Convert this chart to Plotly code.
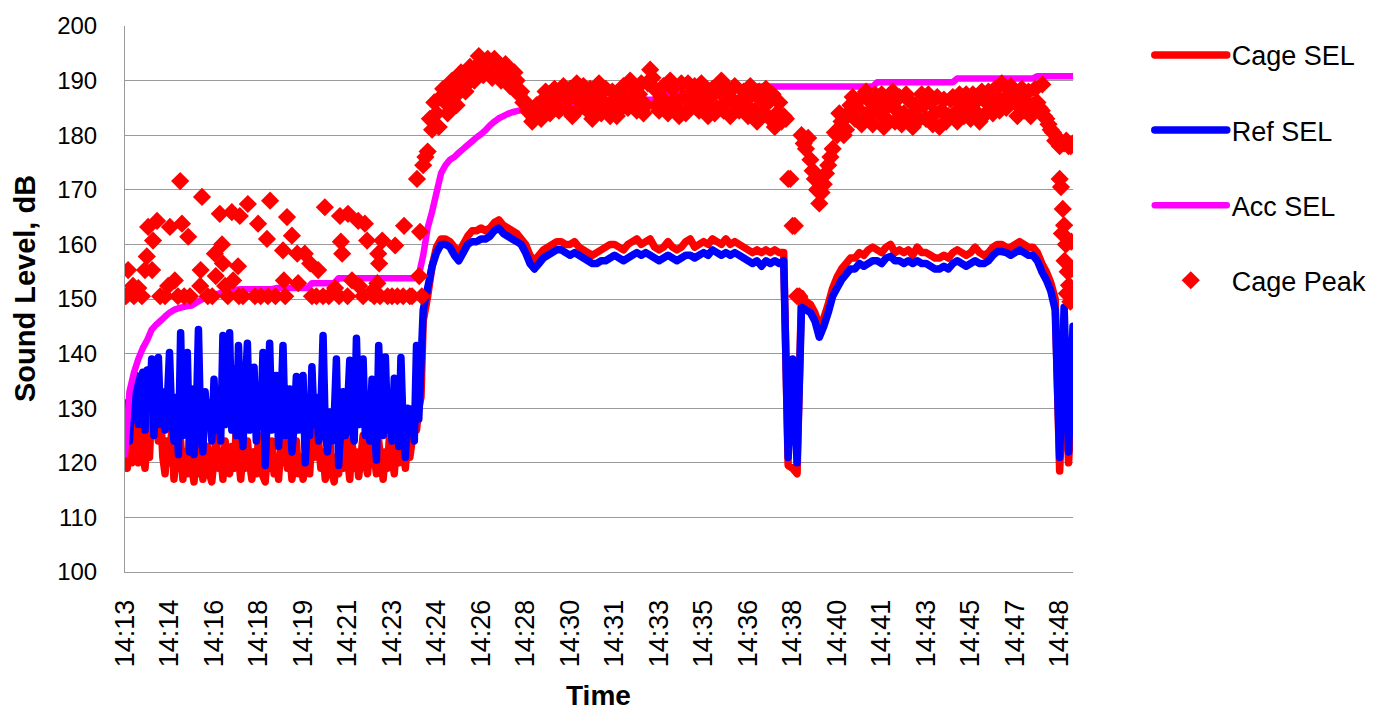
import plotly.graph_objects as go

# ---------------- data ----------------
tick_labels = ["14:13", "14:14", "14:16", "14:18", "14:19", "14:21", "14:23", "14:24",
               "14:26", "14:28", "14:30", "14:31", "14:33", "14:35", "14:36", "14:38",
               "14:40", "14:41", "14:43", "14:45", "14:47", "14:48"]
tick_seconds = [0, 100, 200, 300, 400, 500, 600, 700, 800, 900, 1000, 1100, 1200,
                1300, 1400, 1500, 1600, 1700, 1800, 1900, 2000, 2100]

# Before piling (14:13:00 - 14:24:05) SEL is logged every 5 s, afterwards every 10 s
early_step = 5
late_start = 670
late_step = 10

cage_sel_early = [
    121, 119, 123, 120, 129, 124, 120, 128, 122, 119,
    125, 121, 131, 133, 127, 124, 129, 121, 118, 124,
    120, 126, 117, 121, 119, 124, 117, 122, 118, 125,
    119, 116.5, 121, 118, 124, 117, 120, 123, 118, 116.5,
    121, 125, 119, 122, 117, 124, 120, 118, 123, 119,
    126, 121, 117, 122, 119, 124, 120, 117, 122, 118,
    125, 121, 117.5, 116.5, 122, 119, 124, 118, 121, 117,
    123, 120, 126, 119, 122, 117, 120, 124, 118, 121,
    117, 119, 123, 118, 126, 121, 128, 124, 119, 122,
    117, 120, 125, 118, 116.5, 121, 118, 123, 119, 126,
    121, 117, 124, 119, 122, 117.5, 121, 125, 120, 118,
    123, 127, 121, 118, 124, 120, 117, 122, 119, 126,
    121, 118, 124, 120, 126, 122, 119, 125, 121, 124,
    128, 126, 130, 132,
]
ref_sel_early = [
    126, 131, 124, 133, 128, 136, 127, 134, 136.6, 126,
    137, 130, 139, 125, 135, 139.3, 127, 133, 126, 131,
    140.2, 128, 124, 132, 121.5, 143.8, 125, 131, 140.2, 122,
    133.5, 121.5, 128, 144.4, 126, 122, 133, 127, 131, 124,
    135.3, 126, 130, 124, 143.3, 127, 131, 143.8, 126, 137.1,
    125, 141.5, 128, 123, 133, 141.9, 126, 130, 137.5, 124,
    131, 127, 140.2, 119.5, 129, 141.9, 126, 131, 136, 123,
    129, 141.5, 125, 128, 133.5, 122, 127, 135.8, 126, 130,
    136, 120, 128, 125, 137.6, 127, 132, 124, 129, 143.3,
    126, 122, 129.3, 124, 128, 139, 119.5, 127, 133, 125,
    130, 138.8, 126, 124, 142.8, 127, 131, 139, 125, 129,
    124, 135.3, 127, 120.5, 141.5, 128, 125, 139.4, 126, 130,
    124, 135.5, 127, 123, 139.3, 126, 121, 130, 127, 129.9,
    124, 141.5, 128, 138,
]

cage_sel = [
    146, 150.5, 156,
    159.5, 161, 161, 160.5, 159.5, 158.5, 160, 161.5, 162.5, 162.5,
    163, 162.5, 163, 164, 164.5, 163.5, 163, 162.5, 162, 161,
    160, 158, 157, 158, 159, 159.5, 160, 160.5, 160.5, 160,
    160, 160.5, 159.5, 159, 158.5, 158, 158.5, 159, 159.5, 160,
    160, 159.5, 159, 160, 160.5, 161, 160, 160.5, 161, 159.5,
    159, 159.5, 160.5, 159.5, 159, 159.5, 160.5, 161, 159.5, 160,
    160.5, 160, 161, 160.5, 160, 161, 160, 160.5, 160, 159.5,
    159, 158.5, 159, 158.5, 159, 158.5, 159, 158.5, 158.5, 119.5,
    119, 118, 151, 149.5, 149, 147.5, 145, 146.5, 149, 152,
    154, 155.5, 156.5, 157.5, 157.5, 158.5, 158, 159, 159.5, 159,
    158.5, 159.5, 160, 158.5, 159, 158.5, 159, 158, 159.5, 158.5,
    158.5, 158, 157.5, 157.5, 158, 157.5, 158.5, 159, 158.5, 158,
    158.5, 159.5, 158.5, 158, 158.5, 159.5, 160, 160, 159.5, 159.5,
    160, 160.5, 160, 159.5, 159.5, 158.5, 156.5, 155, 153, 150,
    118.5, 140, 120, 135,
]

ref_sel = [
    148, 152, 156,
    158.5, 160, 160, 159.5, 158, 157, 158.5, 160, 160.5, 160.5,
    161, 161, 161.5, 162.5, 163, 162, 161.5, 161, 160.5, 160,
    158.5, 156.5, 155.5, 156.5, 157.5, 158, 158.5, 159, 159, 158.5,
    158, 158.5, 158, 157.5, 157, 156.5, 156.5, 157, 157, 157.5,
    158, 157.5, 157, 157.5, 158, 158.5, 158, 158.5, 158, 157.5,
    157, 157.5, 158, 157.5, 157, 157.5, 158, 158, 157.5, 158,
    158.5, 158, 159, 158.5, 158, 158.5, 158, 158.5, 158, 157.5,
    157, 156.5, 157, 156, 157, 156.5, 157, 156.5, 157, 121,
    139, 120, 148.5, 148, 147.5, 146, 143, 145, 147.5, 150.5,
    152, 153.5, 154.5, 155.5, 155.5, 156.5, 156, 156.5, 157, 157,
    156.5, 157.5, 157.8, 157, 157, 156.5, 157, 156.5, 157, 156.5,
    156.5, 156, 155.5, 155.5, 156, 155.5, 156.5, 157, 156.5, 156,
    156.5, 157, 156.5, 156.5, 157, 158, 158.7, 158.7, 158.5, 158,
    158.5, 159, 158.5, 158, 158, 157, 155, 153.5, 151.5, 148,
    121, 148.5, 122, 145,
]

# Accumulated SEL, every 10 s from 14:13:00
acc_step = 10
acc_sel = [
    121.5, 133, 136.5, 139, 141, 142.5, 144.4, 145.3, 146, 146.8,
    147.5, 148, 148.3, 148.5, 148.7, 148.8, 149.3, 149.8, 150.2, 150.6,
    150.8, 151, 151.2, 151.4, 151.6, 151.7, 151.8, 151.8, 151.8, 151.8,
    151.8, 151.8, 151.8, 151.8, 152, 152, 152, 152, 152, 152,
    152, 152, 152.9, 152.9, 152.9, 152.9, 152.9, 152.9, 153.8, 153.8,
    153.8, 153.8, 153.8, 153.8, 153.8, 153.8, 153.8, 153.8, 153.8, 153.8,
    153.8, 153.8, 153.8, 153.8, 153.8, 153.8, 154.3, 158, 163, 166,
    169.5, 173, 174.5, 175.5, 176, 176.8, 177.5, 178.2, 178.9, 179.6,
    180.2, 180.9, 181.8, 182.5, 183.1, 183.5, 183.9, 184.2, 184.4, 184.6,
    184.7, 184.8, 184.8, 184.9, 184.9, 185, 185, 185, 185.1, 185.1,
    185.1, 185.8, 185.8, 185.8, 185.8, 185.8, 185.8, 185.8, 185.8, 185.8,
    185.8, 186.5, 186.5, 186.5, 186.5, 186.5, 186.5, 186.5, 186.5, 186.5,
    186.5, 187.5, 187.5, 187.5, 187.5, 187.5, 187.5, 187.5, 187.5, 187.5,
    187.5, 188.3, 188.3, 188.3, 188.3, 188.3, 188.3, 188.3, 188.3, 188.3,
    188.5, 188.9, 188.9, 188.9, 188.9, 188.9, 188.9, 188.9, 188.9, 188.9,
    188.9, 188.9, 188.9, 188.9, 188.9, 188.9, 188.9, 188.9, 188.9, 188.9,
    188.9, 188.9, 188.9, 188.9, 188.9, 188.9, 188.9, 188.9, 188.9, 189.7,
    189.7, 189.7, 189.7, 189.7, 189.7, 189.7, 189.7, 189.7, 189.7, 189.7,
    189.7, 189.7, 189.7, 189.7, 189.7, 189.7, 189.7, 190.4, 190.4, 190.4,
    190.4, 190.4, 190.4, 190.4, 190.4, 190.4, 190.4, 190.4, 190.4, 190.4,
    190.4, 190.4, 190.4, 190.4, 190.4, 190.8, 190.8, 190.8, 190.8, 190.8,
    190.8, 190.8, 190.8, 190.8,
]

# Cage Peak: scattered readings before the pile driving began (time in s after 14:13:00)
peak_early_t = [7, 18, 20, 38, 49, 45, 61, 52, 72, 63, 79, 101, 124, 128, 142, 112, 97, 119,
                146, 169, 170, 173, 196, 202, 213, 218, 240, 258, 276, 204, 220, 225, 231,
                254, 243, 256, 292, 299, 319, 326, 321, 364, 375, 355, 387, 357, 360, 389,
                404, 416, 434, 420, 445, 449, 483, 501, 485, 488, 472, 481, 524, 539, 544,
                578, 569, 607, 571, 510, 526, 551, 567, 573, 600, 625, 627, 663, 661, 667,
                656, 2, 30, 90, 133, 186, 265, 305, 338, 430, 458, 500, 535, 560, 590, 612,
                640, 645]
peak_early_db = [155.3, 152.4, 150.5, 150.5, 157.8, 155.3, 155.3, 163.2, 164.3, 160.7, 150.5,
                 163.2, 171.6, 163.8, 161.4, 153.4, 152.4, 150.5, 150.5, 152.4, 155.3, 168.7,
                 150.5, 158.3, 165.6, 160, 165.9, 165.2, 167.4, 154.2, 156.5, 152.4, 150.5,
                 156, 153.4, 150.5, 150.5, 163.8, 161, 168, 150.5, 165, 161.6, 158.9, 158.3,
                 153.4, 150.5, 152.9, 158.3, 156.5, 155.3, 150.5, 150.5, 166.8, 165.2, 165.6,
                 160.5, 158.3, 152, 150.5, 164.3, 163.8, 160.7, 160.7, 158.3, 159.8, 156.5,
                 153.4, 152.4, 151.1, 152.9, 150.5, 150.5, 150.5, 163.4, 162.3, 154.2, 150.5,
                 172, 150.5, 152, 150.5, 150.5, 150.5, 150.5, 150.5, 150.5, 150.5, 150.5,
                 150.5, 150.5, 150.5, 150.5, 150.5, 150.5, 150.5]
# Cage Peak every 10 s from 14:24:10 to the end
peak_grid_db = [
    174.5, 177, 181,
    184, 187, 186, 188, 187, 189.5, 190.5, 189.5, 191, 192,
    193.5, 193, 192.5, 194, 193, 191.5, 192, 190.5, 190, 188,
    186, 184, 183, 184.5, 186.5, 185.5, 187, 186, 187.5, 185,
    188.5, 184, 187.5, 189, 184.5, 183, 187, 184, 188.5, 183.5,
    186.5, 184.5, 189, 185, 188.5, 184.5, 189.5, 185.5, 192, 188.5,
    184.5, 189, 184, 188.5, 185, 189.5, 184, 187.5, 189, 184.5,
    188, 183.5, 188.5, 185, 190, 186, 183.5, 189, 184.5, 188,
    183.5, 187.5, 182.5, 186.5, 188.5, 183, 181.5, 186, 183.5, 172,
    163.4, 150.5, 180, 177.5, 175.5, 172, 167.5, 171, 174.5, 177.5,
    180, 182.5, 181, 185.5, 183, 186.5, 183, 186.5, 182, 185.5,
    187.5, 183, 186, 182.5, 187, 184, 186.5, 181.5, 185, 187.5,
    183, 186, 184, 181.5, 186.5, 183.5, 187, 182.5, 185.5, 187.5,
    183, 186, 182.5, 186.5, 188, 184, 187, 189.5, 185, 189,
    186, 187.5, 184.5, 188, 185.5, 186, 184.5, 183, 181, 179,
    178, 178.5, 178, 178.5,
]
# Cage Peak readings half-way between those (14:24:15 onwards)
peak_mid_db = [
    176, 183, 186, 181.5, 188.5, 184, 190, 185.5, 191.5, 188,
    192.5, 190, 194.5, 191, 194, 190.5, 193, 190, 193, 189,
    191.5, 187.5, 186, 184.5, 182.5, 185.5, 183, 188, 184, 188.5,
    184.5, 189,
    186.5, 183.5, 189.5, 186, 186.5, 188.5, 185.5, 189.5, 186, 185.5,
    188, 183.5, 187, 186.5, 190, 186.5, 187.5, 184, 189.5, 190.5,
    185.5, 187, 186, 190, 186.5, 183.5, 187, 189.5, 185.5, 186.5,
    189.5, 185.5, 187, 184, 188, 184.5, 188.5, 186.5, 185.5, 186.5,
    185.5, 189, 184.5, 188, 184, 186, 187.5, 184, 182.5,
    183, 172, 163.4, 150.5,
    178.5, 179.5, 173.5, 170, 169.5, 173, 176, 180.5, 184, 180,
    184, 187, 185, 182, 188, 184.5, 187.5, 184, 181.5, 185.5,
    188, 184.5, 182, 187.5, 183.5, 185.5, 183, 185.5, 187.5, 182,
    187, 184.5, 182.5, 186.5, 184, 187.5, 183.5, 185, 187.5, 184,
    188, 184, 186, 188.5, 184.5, 186.5, 188.5, 186.5, 183.5, 188.5,
    186, 183.5, 188.5, 185, 183.5, 182, 180.5, 179.5, 178.5, 179,
    178,
]
# Cage Peak extra readings near the end
peak_end_t = [2061, 2100, 2103, 2107, 2110, 2105, 2114, 2111, 2118, 2121, 2116, 2124, 2127, 2126]
peak_end_db = [189.3, 172, 170.5, 166.5, 163.5, 162, 160, 157, 155, 152.5, 151, 149.5, 155.5, 160.5]

# ---------------- figure ----------------
assert len(cage_sel_early) == len(ref_sel_early) == late_start // early_step
assert len(cage_sel) == len(ref_sel) == len(peak_grid_db)
assert len(peak_mid_db) == len(peak_grid_db) - 1

early_t = [k * early_step for k in range(len(cage_sel_early))]
late_t = [late_start + j * late_step for j in range(len(cage_sel))]
sel_t = early_t + late_t
acc_t = [i * acc_step for i in range(len(acc_sel))]
mid_t = [t + late_step / 2 for t in late_t[:-1]]
peak_t = peak_early_t + late_t + mid_t + peak_end_t
peak_db = peak_early_db + peak_grid_db + peak_mid_db + peak_end_db

FONT = "Liberation Sans, Arial, Helvetica, sans-serif"
GRID = "#9a9a9a"

fig = go.Figure()
fig.add_trace(go.Scatter(x=sel_t, y=cage_sel_early + cage_sel, mode="lines", name="Cage SEL",
                         line=dict(color="#FF0000", width=7.5, simplify=False), legendgroup="a"))
fig.add_trace(go.Scatter(x=sel_t, y=ref_sel_early + ref_sel, mode="lines", name="Ref SEL",
                         line=dict(color="#0000FF", width=7.5, simplify=False), legendgroup="b"))
fig.add_trace(go.Scatter(x=acc_t, y=acc_sel, mode="lines", name="Acc SEL",
                         line=dict(color="#FF00FF", width=6.5, simplify=False), legendgroup="c"))
fig.add_trace(go.Scatter(x=peak_t, y=peak_db, mode="markers", name="Cage Peak",
                         marker=dict(symbol="diamond", size=14, color="#FF0000",
                                     line=dict(width=0)), legendgroup="d"))

fig.update_layout(
    width=1390, height=717,
    margin=dict(l=125, r=317, t=20, b=145),
    paper_bgcolor="white", plot_bgcolor="white",
    font=dict(family=FONT, color="black"),
    showlegend=True,
    legend=dict(x=1.081, y=0.991, xanchor="left", yanchor="top",
                font=dict(size=27, family=FONT), tracegroupgap=37,
                itemwidth=72, bgcolor="rgba(0,0,0,0)"),
    xaxis=dict(range=[0, 2130], tickmode="array", tickvals=tick_seconds, ticktext=tick_labels,
               tickangle=-90, tickfont=dict(size=27, family=FONT), showgrid=False,
               zeroline=False, showline=True, linecolor=GRID, linewidth=1, ticks="",
               ticklabelstandoff=16),
    yaxis=dict(range=[100, 200], dtick=10, tickfont=dict(size=24, family=FONT),
               showgrid=True, gridcolor=GRID, gridwidth=1, zeroline=False,
               showline=True, linecolor=GRID, linewidth=1, ticks="",
               ticklabelstandoff=22),
    annotations=[
        dict(text="<b>Sound Level, dB</b>", x=-0.1055, y=0.52, xref="paper", yref="paper",
             textangle=-90, showarrow=False, font=dict(size=29, family=FONT),
             xanchor="center", yanchor="middle"),
        dict(text="<b>Time</b>", x=0.499, y=-0.2264, xref="paper", yref="paper",
             showarrow=False, font=dict(size=28, family=FONT),
             xanchor="center", yanchor="middle"),
    ],
)

# Spreadsheet-style rounded line joins and caps
round_joins = """
var gd = document.getElementById('{plot_id}');
function roundLines() {
  gd.querySelectorAll('path.js-line, .legendlines path').forEach(function (p) {
    p.style.strokeLinejoin = 'round';
    p.style.strokeLinecap = 'round';
  });
}
roundLines();
gd.on('plotly_afterplot', roundLines);
"""

fig.write_html("out.html", post_script=round_joins)
